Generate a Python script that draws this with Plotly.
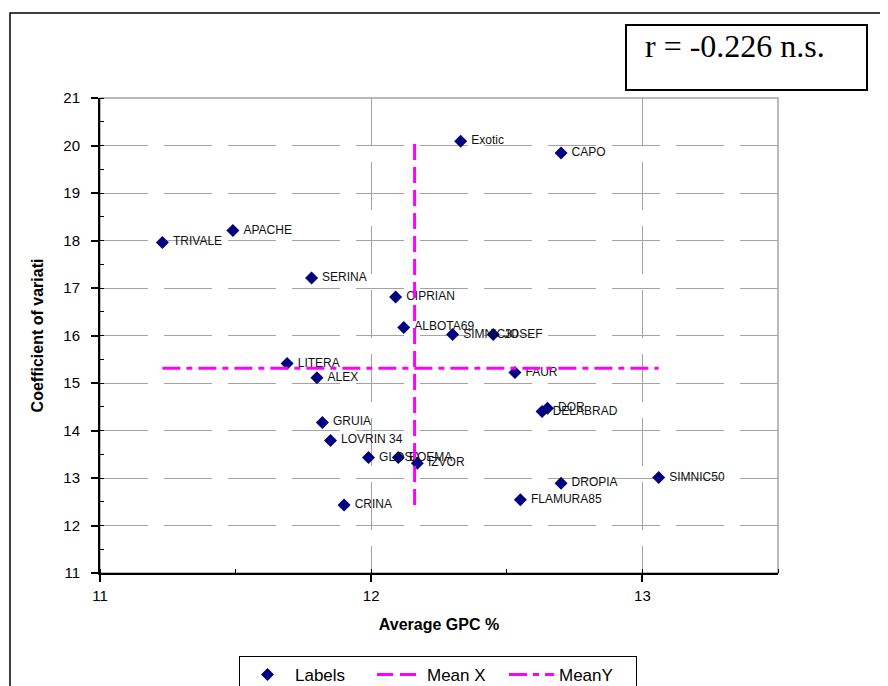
import plotly.graph_objects as go

# ---- data ----
names = ["TRIVALE", "APACHE", "SERINA", "CIPRIAN", "Exotic", "CAPO", "ALBOTA69",
         "SIMNIC30", "JOSEF", "LITERA", "FAUR", "ALEX", "DOR", "DELABRAD", "GRUIA",
         "LOVRIN 34", "GLOSA", "BOEMA", "IZVOR", "SIMNIC50", "DROPIA", "CRINA", "FLAMURA85"]
avg_gpc = [11.23, 11.49, 11.78, 12.09, 12.33, 12.70, 12.12,
           12.30, 12.45, 11.69, 12.53, 11.80, 12.65, 12.63, 11.82,
           11.85, 11.99, 12.10, 12.17, 13.06, 12.70, 11.90, 12.55]
cv = [17.96, 18.21, 17.21, 16.81, 20.09, 19.84, 16.17,
      16.02, 16.02, 15.41, 15.22, 15.11, 14.47, 14.40, 14.17,
      13.79, 13.43, 13.43, 13.31, 13.01, 12.89, 12.43, 12.54]
mean_x = 12.16
mean_y = 15.31
r_text = "r = -0.226 n.s."

x_ticks = [11, 12, 13]
y_ticks = list(range(11, 22))

# ---- layout geometry (page pixels; page body has an 8px margin) ----
OFF = 8
L, R, T, B = 100, 778, 98, 573
W_FIG, H_FIG = 888 - OFF, 686 - OFF
def px(x):
    return (x - L) / (R - L)
def py(y):
    return (B - y) / (B - T)

SANS = "Liberation Sans, Arial, sans-serif"
SERIF = "Liberation Serif, Times New Roman, serif"
MAG = "#FF00FF"
NAVY = "#000080"
GRID = "#a3a3a3"

fig = go.Figure()

fig.add_trace(go.Scatter(
    x=avg_gpc, y=cv, mode="markers+text", name="Labels",
    text=["\u00a0" + n for n in names], textposition="middle right",
    textfont=dict(family=SANS, size=12, color="#111111"),
    marker=dict(symbol="diamond", size=10, color=NAVY, line=dict(width=0)),
))
fig.add_trace(go.Scatter(
    x=[mean_x, mean_x], y=[min(cv), max(cv)], mode="lines", name="Mean X",
    line=dict(color=MAG, width=3, dash="16px,7px"),
))
fig.add_trace(go.Scatter(
    x=[min(avg_gpc), max(avg_gpc)], y=[mean_y, mean_y], mode="lines", name="MeanY",
    line=dict(color=MAG, width=3, dash="18px,6px,6px,6px"),
))

axis_common = dict(
    showgrid=True, gridcolor=GRID, gridwidth=1.2, griddash="48px,16px",
    showline=True, linecolor="black", linewidth=2, zeroline=False,
    ticks="outside", ticklen=7, tickwidth=1.5, tickcolor="black",
    tickfont=dict(family=SANS, size=15, color="black"),
    minor=dict(ticks="inside", ticklen=4, tickwidth=1.2, tickcolor="black",
               dtick=0.5, showgrid=False),
)

fig.update_xaxes(
    range=[11, 13.5], tickvals=x_ticks, ticktext=[str(v) for v in x_ticks],
    ticklabelstandoff=1,
    title=dict(text="<b>Average GPC %</b>", font=dict(family=SANS, size=16, color="black"),
               standoff=16),
    **axis_common,
)
fig.update_yaxes(
    range=[11, 21], tickvals=y_ticks, ticktext=[str(v) for v in y_ticks],
    ticklabelstandoff=8,
    title=dict(text="<b>Coefficient of variati</b>", font=dict(family=SANS, size=16, color="black"),
               standoff=16),
    **axis_common,
)

shapes = [
    # plot-area border (top/right, grey)
    dict(type="rect", xref="paper", yref="paper", x0=0, x1=1, y0=0, y1=1,
         line=dict(color=GRID, width=1.5), layer="below"),
    # outer chart frame
    dict(type="rect", xref="paper", yref="paper",
         x0=px(10), x1=px(900), y0=py(700), y1=py(13),
         line=dict(color="black", width=1.5)),
    # r box
    dict(type="rect", xref="paper", yref="paper",
         x0=px(626), x1=px(867), y0=py(90), y1=py(25),
         line=dict(color="black", width=2), fillcolor="white"),
]

fig.update_layout(
    width=W_FIG, height=H_FIG,
    margin=dict(l=L - OFF, r=W_FIG - (R - OFF), t=T - OFF, b=H_FIG - (B - OFF), autoexpand=False),
    paper_bgcolor="white", plot_bgcolor="white",
    showlegend=True,
    legend=dict(orientation="h", x=px(438), xanchor="center", y=py(656), yanchor="top",
                bordercolor="black", borderwidth=1, bgcolor="white",
                font=dict(family=SANS, size=17, color="black"),
                itemwidth=45, entrywidth=72, tracegroupgap=0),
    shapes=shapes,
    annotations=[dict(text=r_text, xref="paper", yref="paper", x=px(735), y=py(46),
                      xanchor="center", yanchor="middle", showarrow=False,
                      font=dict(family=SERIF, size=32, color="black"))],
)

fig.write_html("out.html")
